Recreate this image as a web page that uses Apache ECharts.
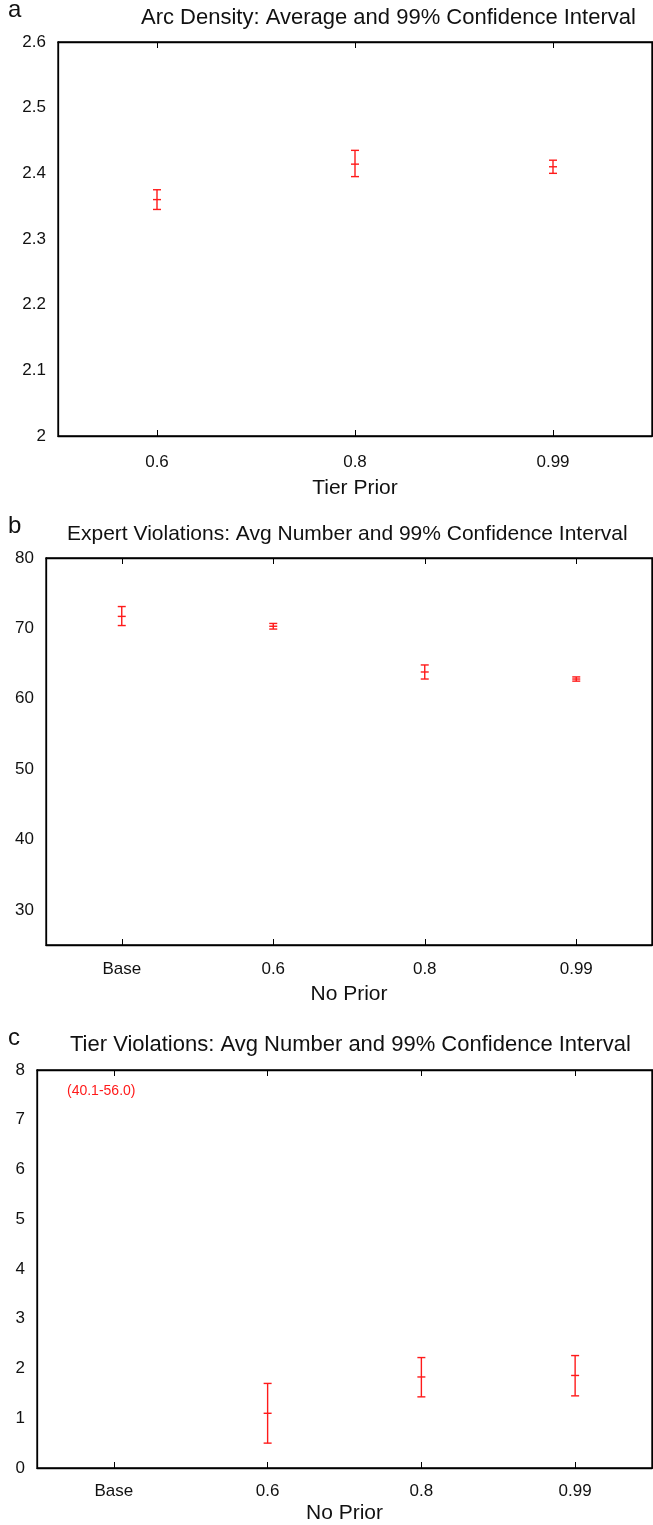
<!DOCTYPE html>
<html>
<head>
<meta charset="utf-8">
<script src="https://cdn.jsdelivr.net/npm/echarts@6/dist/echarts.min.js"></script>
<style>
html,body{margin:0;padding:0;background:#fff;}
#chart{width:653px;height:1525px;}
</style>
</head>
<body>
<div id="chart"></div>
<script>
// Panel a: Arc Density
const catsA = ['0.6', '0.8', '0.99'];
const arcMean = [2.36, 2.414, 2.41];
const arcLow = [2.345, 2.395, 2.40];
const arcHigh = [2.375, 2.435, 2.42];

// Panel b: Expert Violations
const catsB = ['Base', '0.6', '0.8', '0.99'];
const expMean = [71.7, 70.3, 63.8, 62.8];
const expLow = [70.4, 69.9, 62.8, 62.5];
const expHigh = [73.1, 70.7, 64.8, 63.1];

// Panel c: Tier Violations (Base off-scale)
const catsC = ['Base', '0.6', '0.8', '0.99'];
const tierMean = [null, 1.1, 1.83, 1.86];
const tierLow = [null, 0.5, 1.43, 1.45];
const tierHigh = [null, 1.7, 2.22, 2.26];
const baseNote = '(40.1-56.0)';

const titles = [
  'Arc Density: Average and 99% Confidence Interval',
  'Expert Violations: Avg Number and 99% Confidence Interval',
  'Tier Violations: Avg Number and 99% Confidence Interval'
];
const xNames = ['Tier Prior', 'No Prior', 'No Prior'];

const FONT = 'Liberation Sans, Arial, sans-serif';
const RED = '#ff1a1a';

function toData(mean, low, high) {
  const out = [];
  for (let i = 0; i < mean.length; i++) {
    if (mean[i] == null) continue;
    out.push([i, low[i], mean[i], high[i]]);
  }
  return out;
}

function renderErr(params, api) {
  const x = api.value(0);
  const lo = api.coord([x, api.value(1)]);
  const mid = api.coord([x, api.value(2)]);
  const hi = api.coord([x, api.value(3)]);
  const hw = 4;
  const st = {stroke: RED, lineWidth: 1.4};
  return {
    type: 'group',
    children: [
      {type: 'line', shape: {x1: lo[0], y1: lo[1], x2: hi[0], y2: hi[1]}, style: st},
      {type: 'line', shape: {x1: lo[0] - hw, y1: lo[1], x2: lo[0] + hw, y2: lo[1]}, style: st},
      {type: 'line', shape: {x1: hi[0] - hw, y1: hi[1], x2: hi[0] + hw, y2: hi[1]}, style: st},
      {type: 'line', shape: {x1: mid[0] - hw, y1: mid[1], x2: mid[0] + hw, y2: mid[1]}, style: st}
    ]
  };
}

const grids = [
  {left: 58, right: 1, top: 42, height: 394},
  {left: 46, right: 1, top: 558, height: 387},
  {left: 37, right: 1, top: 1070, height: 398}
].map(g => Object.assign(g, {show: true, borderColor: '#000', borderWidth: 1.3,
  backgroundColor: 'transparent', containLabel: false, outerBoundsMode: 'none'}));
const cats = [catsA, catsB, catsC];
const yCfg = [
  {min: 2, max: 2.6, interval: 0.1},
  {min: 25, max: 80},
  {min: 0, max: 8, interval: 1}
];
const nameGaps = [42, 39, 35];
const labelMargins = [18, 16, 15];

const xAxes = [], yAxes = [], series = [];
grids.forEach((g, i) => {
  xAxes.push({
    type: 'category', gridIndex: i, data: cats[i], position: 'bottom',
    boundaryGap: true,
    axisLine: {show: true, onZero: false, lineStyle: {color: '#000', width: 1.3}},
    axisTick: {show: true, inside: true, alignWithLabel: true, length: 6, lineStyle: {color: '#000'}},
    axisLabel: {color: '#111', fontSize: 17, fontFamily: FONT, margin: labelMargins[i]},
    name: xNames[i], nameLocation: 'middle', nameGap: nameGaps[i],
    nameTextStyle: {color: '#111', fontSize: 21, fontFamily: FONT},
    splitLine: {show: false}
  });
  xAxes.push({
    type: 'category', gridIndex: i, data: cats[i], position: 'top',
    boundaryGap: true,
    axisLine: {show: true, onZero: false, lineStyle: {color: '#000', width: 1.3}},
    axisTick: {show: true, inside: true, alignWithLabel: true, length: 6, lineStyle: {color: '#000'}},
    axisLabel: {show: false},
    splitLine: {show: false}
  });
  yAxes.push(Object.assign({
    type: 'value', gridIndex: i, position: 'left',
    axisLine: {show: true, onZero: false, lineStyle: {color: '#000', width: 1.3}},
    axisTick: {show: false},
    axisLabel: {color: '#111', fontSize: 17, fontFamily: FONT, margin: 12, showMinLabel: i !== 1},
    splitLine: {show: false}
  }, yCfg[i]));
  yAxes.push(Object.assign({
    type: 'value', gridIndex: i, position: 'right',
    axisLine: {show: true, onZero: false, lineStyle: {color: '#000', width: 1.3}},
    axisTick: {show: false}, axisLabel: {show: false}, splitLine: {show: false}
  }, yCfg[i]));
});

series.push({type: 'custom', xAxisIndex: 0, yAxisIndex: 0, renderItem: renderErr,
  data: toData(arcMean, arcLow, arcHigh), silent: true});
series.push({type: 'custom', xAxisIndex: 2, yAxisIndex: 2, renderItem: renderErr,
  data: toData(expMean, expLow, expHigh), silent: true});
series.push({type: 'custom', xAxisIndex: 4, yAxisIndex: 4, renderItem: renderErr,
  data: toData(tierMean, tierLow, tierHigh), silent: true});

const titleLeft = [141, 67, 70];
const titleTop = [7, 524, 1034];
const titleSize = [22, 21, 22];
const letterTop = [-2, 514, 1026];
const graphics = [];
['a', 'b', 'c'].forEach((L, i) => {
  graphics.push({type: 'text', left: 8, top: letterTop[i],
    style: {text: L, font: '24px ' + FONT, fill: '#111'}});
  graphics.push({type: 'text', left: titleLeft[i], top: titleTop[i],
    style: {text: titles[i], font: titleSize[i] + 'px ' + FONT, fill: '#111'}});
});
graphics.push({type: 'text', left: 67, top: 1084,
  style: {text: baseNote, font: '14px ' + FONT, fill: RED}});

const chart = echarts.init(document.getElementById('chart'));
chart.setOption({
  animation: false,
  backgroundColor: '#fff',
  grid: grids,
  xAxis: xAxes,
  yAxis: yAxes,
  series: series,
  graphic: graphics
});
</script>
</body>
</html>
